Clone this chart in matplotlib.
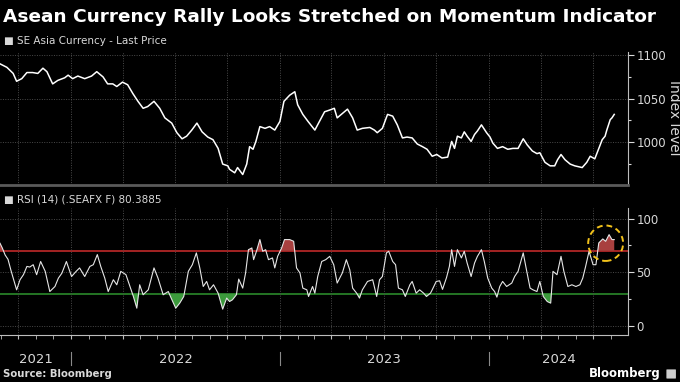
import pandas as pd
import matplotlib
matplotlib.use("Agg")
import matplotlib.pyplot as plt
import matplotlib.dates as mdates
import matplotlib.transforms as mtransforms
from matplotlib.patches import Ellipse, FancyBboxPatch
from matplotlib.ticker import MultipleLocator

# SE Asia Currency - Last Price
px_dates = ["2021-08-30", "2021-09-11", "2021-09-22", "2021-09-28", "2021-10-07", "2021-10-16",
            "2021-10-26", "2021-11-04", "2021-11-13", "2021-11-20", "2021-11-30", "2021-12-09",
            "2021-12-21", "2021-12-27", "2022-01-04", "2022-01-13", "2022-01-25", "2022-02-06",
            "2022-02-15", "2022-02-26", "2022-03-06", "2022-03-15", "2022-03-22", "2022-04-01",
            "2022-04-10", "2022-04-19", "2022-04-28", "2022-05-07", "2022-05-15", "2022-05-26",
            "2022-06-05", "2022-06-14", "2022-06-26", "2022-07-05", "2022-07-14", "2022-07-22",
            "2022-07-31", "2022-08-09", "2022-08-18", "2022-08-28", "2022-09-06", "2022-09-15",
            "2022-09-23", "2022-10-02", "2022-10-05", "2022-10-14", "2022-10-19", "2022-10-28",
            "2022-11-04", "2022-11-09", "2022-11-15", "2022-11-20", "2022-11-27", "2022-12-06",
            "2022-12-14", "2022-12-23", "2023-01-01", "2023-01-08", "2023-01-18", "2023-01-27",
            "2023-02-01", "2023-02-10", "2023-02-19", "2023-03-03", "2023-03-11", "2023-03-20",
            "2023-03-29", "2023-04-06", "2023-04-11", "2023-04-20", "2023-04-29", "2023-05-08",
            "2023-05-16", "2023-05-25", "2023-06-07", "2023-06-15", "2023-06-20", "2023-06-29",
            "2023-07-08", "2023-07-17", "2023-07-25", "2023-08-03", "2023-08-11", "2023-08-20",
            "2023-08-29", "2023-09-07", "2023-09-15", "2023-09-24", "2023-10-02", "2023-10-11",
            "2023-10-21", "2023-10-28", "2023-11-02", "2023-11-07", "2023-11-14", "2023-11-19",
            "2023-11-24", "2023-12-01", "2023-12-07", "2023-12-12", "2023-12-19", "2023-12-28",
            "2024-01-03", "2024-01-08", "2024-01-16", "2024-01-25", "2024-02-03", "2024-02-12",
            "2024-02-21", "2024-03-01", "2024-03-08", "2024-03-17", "2024-03-25", "2024-03-30",
            "2024-04-08", "2024-04-17", "2024-04-25", "2024-04-30", "2024-05-06", "2024-05-13",
            "2024-05-22", "2024-05-30", "2024-06-12", "2024-06-20", "2024-06-26", "2024-07-04",
            "2024-07-11", "2024-07-17", "2024-07-22", "2024-07-25", "2024-07-31", "2024-08-03",
            "2024-08-07"]
px_vals = [1090, 1086, 1079, 1070, 1073, 1080, 1080, 1079, 1085, 1081, 1067, 1071,
           1074, 1077, 1073, 1076, 1073, 1076, 1081, 1075, 1067, 1067, 1064, 1069,
           1066, 1056, 1047, 1039, 1041, 1047, 1039, 1028, 1022, 1011, 1004, 1007,
           1014, 1022, 1012, 1006, 1003, 993, 975, 973, 969, 965, 971, 963,
           975, 995, 992, 1001, 1018, 1016, 1018, 1014, 1024, 1047, 1054, 1058,
           1043, 1032, 1024, 1014, 1024, 1035, 1037, 1039, 1028, 1033, 1038, 1028,
           1014, 1016, 1017, 1014, 1011, 1016, 1032, 1030, 1020, 1005, 1006, 1005,
           998, 995, 992, 984, 986, 982, 983, 1001, 993, 1007, 1005, 1012,
           1007, 1001, 1009, 1013, 1020, 1011, 1006, 999, 993, 995, 992, 993,
           993, 1004, 997, 990, 987, 988, 977, 973, 973, 980, 986, 980,
           975, 973, 971, 977, 984, 981, 993, 1003, 1007, 1014, 1026, 1028,
           1032]

# RSI (14) (.SEAFX F)
rsi_dates = ["2021-08-30", "2021-09-03", "2021-09-08", "2021-09-13", "2021-09-18", "2021-09-22",
             "2021-09-28", "2021-10-04", "2021-10-10", "2021-10-16", "2021-10-21", "2021-10-27",
             "2021-11-02", "2021-11-09", "2021-11-17", "2021-11-25", "2021-12-04", "2021-12-10",
             "2021-12-16", "2021-12-24", "2022-01-02", "2022-01-10", "2022-01-16", "2022-01-25",
             "2022-02-03", "2022-02-09", "2022-02-16", "2022-02-22", "2022-03-01", "2022-03-07",
             "2022-03-16", "2022-03-22", "2022-03-29", "2022-04-07", "2022-04-14", "2022-04-20",
             "2022-04-26", "2022-05-01", "2022-05-07", "2022-05-16", "2022-05-22", "2022-05-26",
             "2022-06-02", "2022-06-11", "2022-06-20", "2022-06-25", "2022-07-03", "2022-07-10",
             "2022-07-17", "2022-07-25", "2022-08-01", "2022-08-08", "2022-08-14", "2022-08-20",
             "2022-08-26", "2022-08-31", "2022-09-07", "2022-09-15", "2022-09-23", "2022-09-30",
             "2022-10-05", "2022-10-10", "2022-10-17", "2022-10-21", "2022-10-28", "2022-11-02",
             "2022-11-07", "2022-11-13", "2022-11-16", "2022-11-21", "2022-11-27", "2022-12-02",
             "2022-12-07", "2022-12-12", "2022-12-19", "2022-12-23", "2022-12-28", "2023-01-04",
             "2023-01-09", "2023-01-18", "2023-01-25", "2023-01-30", "2023-02-05", "2023-02-10",
             "2023-02-17", "2023-02-20", "2023-02-27", "2023-03-03", "2023-03-08", "2023-03-15",
             "2023-03-22", "2023-03-29", "2023-04-05", "2023-04-11", "2023-04-20", "2023-04-27",
             "2023-05-03", "2023-05-08", "2023-05-15", "2023-05-20", "2023-05-25", "2023-06-03",
             "2023-06-12", "2023-06-19", "2023-06-24", "2023-06-29", "2023-07-06", "2023-07-10",
             "2023-07-17", "2023-07-22", "2023-07-27", "2023-08-03", "2023-08-08", "2023-08-16",
             "2023-08-20", "2023-08-27", "2023-09-02", "2023-09-09", "2023-09-14", "2023-09-21",
             "2023-09-24", "2023-10-01", "2023-10-07", "2023-10-12", "2023-10-19", "2023-10-24",
             "2023-10-28", "2023-11-02", "2023-11-07", "2023-11-14", "2023-11-19", "2023-11-24",
             "2023-12-01", "2023-12-07", "2023-12-12", "2023-12-19", "2023-12-24", "2023-12-30",
             "2024-01-06", "2024-01-11", "2024-01-15", "2024-01-20", "2024-01-25", "2024-02-01",
             "2024-02-10", "2024-02-15", "2024-02-21", "2024-03-01", "2024-03-06", "2024-03-13",
             "2024-03-18", "2024-03-25", "2024-03-30", "2024-04-05", "2024-04-12", "2024-04-18",
             "2024-04-22", "2024-04-29", "2024-05-06", "2024-05-11", "2024-05-18", "2024-05-25",
             "2024-06-01", "2024-06-08", "2024-06-13", "2024-06-18", "2024-06-24", "2024-07-01",
             "2024-07-06", "2024-07-11", "2024-07-18", "2024-07-23", "2024-07-29", "2024-08-03",
             "2024-08-07"]
rsi_vals = [77, 72.6, 66, 62, 52, 44.5, 33.6, 43, 47.7, 55.4, 54.8, 57,
            47.7, 60, 50.8, 32, 36.7, 44.5, 49, 60, 46, 50.8, 54, 46,
            55.4, 57, 66.4, 55.4, 44.5, 32, 43, 38.3, 50.8, 47.7, 36.7, 27.4,
            16.5, 38.3, 29, 33.6, 46, 54, 44.5, 29, 32, 25.9, 16.5, 21.2,
            27.4, 50.8, 57, 68, 54, 36.7, 41.4, 33.6, 38.3, 30.5, 15.6, 25.9,
            22.7, 24.3, 29, 43.6, 35.2, 49.3, 71, 72.6, 61.7, 69.5, 80.4, 69.5,
            71, 61.7, 63.3, 54, 64.8, 72.6, 80.4, 80.4, 78.8, 54, 49.3, 35.2,
            33.6, 27.4, 36.7, 30.5, 46, 60, 61.7, 64.8, 57, 39.9, 49.3, 61.7,
            52.3, 35.2, 30.5, 25.9, 33.6, 41.4, 43, 27.4, 43, 46, 68, 69.5,
            60, 57, 35.2, 33.6, 27.4, 38.3, 41.4, 30.5, 33.6, 30.5, 27.4, 30.5,
            33.6, 41.4, 42, 34, 45, 55.4, 71, 55.4, 71, 63.3, 69.5, 58.6,
            46, 58.6, 64.8, 71, 60, 44.5, 35.2, 32, 26.8, 36.7, 41.4, 36.7,
            39.9, 46, 50.8, 68, 54, 35.2, 33.6, 32, 41.4, 27.4, 22.7, 21.2,
            50.8, 47.7, 64.8, 50.8, 36.7, 38.3, 36.7, 38.3, 44.5, 55.4, 69.5, 57,
            57, 77.3, 81, 78.8, 85, 80.4, 80.3885]

overbought = 70
oversold = 30
x_start, x_end = "2021-08-30", "2024-08-31"
years = [2021, 2022, 2023, 2024]
highlight = ("2024-07-23", 77)  # dashed circle on the latest reading

px_d = pd.to_datetime(px_dates)
rsi_d = pd.to_datetime(rsi_dates)
rsi = pd.Series(rsi_vals, index=rsi_d)

bg = "black"
fg = "#d9d9d9"
grid_c = "#4a4a4a"

fig = plt.figure(figsize=(6.8, 3.82), dpi=100, facecolor=bg)
ax1 = fig.add_axes([0.0, 0.5157, 0.9235, 0.348], facecolor=bg)
ax2 = fig.add_axes([0.0, 0.123, 0.9235, 0.333], facecolor=bg)

#? top panel
ax1.plot(px_d, px_vals, color="white", lw=1.1)
ax1.set_ylim(951, 1103.5)
ax1.yaxis.set_major_locator(MultipleLocator(50))
ax1.yaxis.set_minor_locator(MultipleLocator(25))

#? bottom panel
ax2.plot(rsi_d, rsi_vals, color="#e6e6e6", lw=0.8, zorder=3)
ax2.fill_between(rsi_d, rsi.values, overbought, where=rsi.values >= overbought,
                 interpolate=True, color="#a8403f", lw=0, zorder=2)
ax2.fill_between(rsi_d, rsi.values, oversold, where=rsi.values <= oversold,
                 interpolate=True, color="#3c9a3c", lw=0, zorder=2)
ax2.axhline(overbought, color="#c02a2a", lw=1.2, zorder=1)
ax2.axhline(oversold, color="#2b8a2b", lw=1.2, zorder=1)
ax2.set_ylim(-8.5, 110)
ax2.yaxis.set_major_locator(MultipleLocator(50))
ax2.yaxis.set_minor_locator(MultipleLocator(25))

c_x = mdates.date2num(pd.Timestamp(highlight[0]))
ax2.add_patch(Ellipse((c_x, highlight[1]), width=61, height=33, fill=False,
                      ec="#f2c21b", lw=1.4, ls=(0, (3, 2)), zorder=4))

for ax in (ax1, ax2):
    ax.set_xlim(pd.Timestamp(x_start), pd.Timestamp(x_end))
    ax.xaxis.set_major_locator(mdates.MonthLocator(bymonth=[1, 4, 7, 10]))
    ax.xaxis.set_minor_locator(mdates.MonthLocator())
    ax.grid(True, which="major", color=grid_c, ls=(0, (1, 1.5)), lw=0.7)
    ax.yaxis.tick_right()
    ax.tick_params(axis="y", which="both", colors=fg, labelsize=8.5, length=4, width=0.8, pad=2)
    ax.tick_params(axis="y", which="minor", length=2.5)
    for s in ("top", "left"):
        ax.spines[s].set_visible(False)
    ax.spines["right"].set_color("#bdbdbd")

ax1.tick_params(axis="x", which="both", length=0, labelbottom=False)
ax1.spines["bottom"].set_color("#5a5a5a")
ax1.spines["bottom"].set_linewidth(2)
ax2.tick_params(axis="x", which="both", colors="#bdbdbd", length=3, labelbottom=False)
ax2.spines["bottom"].set_color("#bdbdbd")

# year labels and separators under the bottom panel
trans = mtransforms.blended_transform_factory(ax2.transData, ax2.transAxes)
lo, hi = ax2.get_xlim()
for yr in years:
    a = max(mdates.date2num(pd.Timestamp(f"{yr}-01-01")), lo)
    b = min(mdates.date2num(pd.Timestamp(f"{yr + 1}-01-01")), hi)
    ax2.text((a + b) / 2, -0.19, str(yr), transform=trans, ha="center", va="center",
             color=fg, fontsize=9.5)
    if a > lo:
        ax2.plot([a, a], [-0.13, -0.235], transform=trans, color="#8a8a8a", lw=0.8,
                 clip_on=False)

#? texts
fig.text(0.004, 0.955, "Asean Currency Rally Looks Stretched on Momentum Indicator",
         color="white", fontsize=13.3, fontweight="bold", va="center", ha="left")
fig.text(0.006, 0.893, "■ SE Asia Currency - Last Price", color=fg, fontsize=7.5,
         va="center")
fig.text(0.006, 0.479, "■ RSI (14) (.SEAFX F) 80.3885", color=fg, fontsize=7.5,
         va="center")
fig.text(0.991, 0.691, "Index level", color=fg, fontsize=10, rotation=270,
         va="center", ha="center")
fig.text(0.004, 0.022, "Source: Bloomberg", color=fg, fontsize=7.3, fontweight="bold",
         va="center")
fig.text(0.971, 0.022, "Bloomberg", color="white", fontsize=8.5, fontweight="bold",
         va="center", ha="right")
fig.patches.append(FancyBboxPatch((0.981, 0.01), 0.012, 0.022, boxstyle="round,pad=0.001",
                                  transform=fig.transFigure, fc="#cfcfcf", ec="none"))

plt.savefig("out.png", dpi=100, facecolor=bg)
